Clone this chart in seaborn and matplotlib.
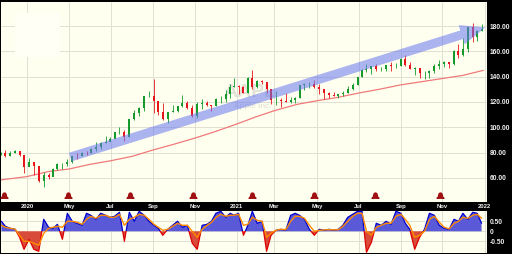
import numpy as np
import pandas as pd
import matplotlib
matplotlib.use("Agg")
import matplotlib.pyplot as plt
import matplotlib.transforms as mtransforms
from matplotlib.patches import Rectangle
from matplotlib.path import Path
import seaborn as sns

# ---------------- data ----------------
market_holidays = ["2020-02-17", "2020-04-10", "2020-05-25", "2020-07-03", "2020-09-07",
                   "2020-11-26", "2020-12-25", "2021-01-01", "2021-01-18", "2021-02-15",
                   "2021-04-02", "2021-05-31", "2021-07-05", "2021-09-06", "2021-11-25",
                   "2021-12-24"]
first_day = "2020-01-22"
last_data_day = "2021-12-31"
calendar_end = "2022-01-05"

first_open = 79.1
week_close = [79.58, 77.38, 80.01, 81.24, 78.26, 68.34, 72.26, 69.49, 57.31, 61.94,
              60.35, 67.00, 70.70, 70.74, 72.27, 77.53, 76.93, 79.72, 79.49, 82.88,
              84.70, 87.43, 88.41, 91.03, 95.92, 96.33, 92.62, 106.26, 111.11, 114.91,
              124.37, 124.81, 120.96, 112.00, 106.84, 112.28, 113.02, 116.97, 119.02, 115.04,
              108.86, 118.69, 119.26, 117.34, 116.59, 122.25, 122.41, 126.66, 131.97, 132.69,
              132.05, 127.14, 139.07, 131.96, 136.76, 135.37, 129.87, 121.26, 121.42, 121.03,
              119.99, 121.21, 123.00, 133.00, 134.16, 134.32, 131.46, 130.21, 127.45, 125.43,
              124.61, 125.89, 127.35, 130.46, 133.11, 139.96, 145.11, 146.39, 148.56, 145.86,
              146.14, 149.10, 148.19, 148.60, 154.30, 148.97, 146.06, 146.92, 142.65, 142.90,
              144.84, 148.69, 149.80, 151.28, 149.99, 160.55, 156.81, 161.84, 179.45, 171.14,
              176.28, 177.57]
week_high = [80.8, 81.96, 81.3, 81.8, 81.2, 75.4, 76.0, 70.3, 64.8, 64.6,
             64.0, 67.9, 71.6, 71.5, 74.7, 77.6, 79.9, 80.2, 81.1, 83.4,
             88.7, 88.3, 93.1, 92.6, 96.3, 99.96, 97.97, 106.4, 113.7, 116.0,
             124.9, 128.8, 137.98, 120.5, 118.8, 112.4, 117.7, 117.0, 125.4, 120.4,
             117.3, 119.6, 121.99, 120.7, 117.6, 123.4, 125.0, 129.6, 134.4, 138.8,
             133.6, 132.6, 139.7, 145.1, 137.4, 137.0, 136.0, 129.7, 128.7, 123.2,
             127.2, 124.2, 124.2, 133.0, 135.0, 135.5, 137.1, 134.1, 129.5, 127.9,
             127.6, 126.0, 128.5, 132.8, 134.6, 140.0, 145.65, 150.0, 148.7, 150.0,
             148.0, 149.4, 151.7, 150.9, 155.0, 157.3, 151.4, 147.4, 145.9, 144.2,
             144.9, 150.2, 153.2, 152.2, 151.6, 161.0, 165.7, 170.3, 179.6, 182.1,
             176.8, 181.3]
week_low = [78.2, 76.2, 76.9, 79.7, 77.6, 64.1, 69.4, 62.0, 57.0, 53.15,
            59.2, 62.3, 66.4, 67.0, 69.6, 71.6, 75.1, 77.6, 78.3, 79.3,
            81.6, 83.1, 87.3, 89.1, 91.8, 94.7, 89.1, 92.5, 106.0, 109.1,
            113.0, 123.9, 110.9, 110.0, 106.1, 103.1, 112.2, 112.3, 115.7, 114.6,
            107.7, 107.3, 114.1, 116.8, 112.6, 116.8, 119.1, 120.2, 123.4, 131.7,
            126.4, 126.9, 127.0, 130.2, 130.9, 134.4, 127.4, 118.4, 117.6, 116.2,
            119.7, 118.9, 119.1, 123.1, 129.5, 131.3, 131.1, 126.1, 122.3, 122.9,
            124.6, 123.1, 124.8, 127.1, 129.7, 133.3, 140.1, 143.6, 141.7, 144.1,
            144.5, 144.6, 144.5, 146.8, 148.6, 148.7, 145.8, 141.3, 139.1, 138.3,
            139.2, 143.2, 146.4, 147.8, 146.5, 149.3, 155.0, 156.4, 159.7, 167.5,
            167.9, 176.2]

ma_dates = ["2020-01-22", "2020-03-02", "2020-04-01", "2020-05-01", "2020-06-01",
            "2020-07-01", "2020-08-03", "2020-09-01", "2020-10-01", "2020-11-02",
            "2020-12-01", "2021-01-04", "2021-02-01", "2021-03-01", "2021-04-01",
            "2021-05-03", "2021-06-01", "2021-07-01", "2021-08-02", "2021-09-01",
            "2021-10-01", "2021-11-01", "2021-12-01", "2021-12-31"]
ma_values = [58.3, 61.0, 65.0, 67.0, 70.5, 73.5, 77.0, 82.0, 86.5, 91.5,
             96.5, 102.5, 108.0, 113.0, 118.0, 121.0, 123.5, 127.0, 130.0, 133.5,
             136.0, 138.5, 141.0, 145.0]

trend_dates = ["2020-05-04", "2022-01-04"]
trend_prices = [76.4, 179.0]

earnings_dates = ["2020-01-28", "2020-04-30", "2020-07-30", "2020-10-29",
                  "2021-01-27", "2021-04-28", "2021-07-27", "2021-10-28"]

ind_blue = [0.5, 0.25, 0.15, 0.1, -0.3, -0.9, -0.4, -0.9, -1.0, 0.6,
            0.2, 0.15, 0.35, -0.4, 0.9, 0.5, 0.4, 0.3, 0.9, 0.8,
            0.6, 0.9, 0.8, 0.7, 0.75, 0.95, -0.5, 0.95, 0.5, 1.0,
            0.8, 0.5, 0.3, 0.15, -0.2, 0.1, 0.3, 0.5, 0.2, 0.3,
            -0.6, -0.9, 0.3, 0.35, 0.5, 0.9, 1.0, 0.7, 0.9, 0.8,
            0.9, -0.2, 0.3, 1.0, 0.4, 0.5, -1.0, -0.2, 0.05, 0.1,
            0.05, 0.8, 0.9, 0.8, 0.6, 0.1, -0.2, 0.1, 0.05, 0.1,
            0.05, 0.1, 0.3, 0.7, 0.85, 1.0, 1.0, -1.05, -0.55, 0.4,
            0.3, 0.5, 0.35, 1.0, 0.9, 0.4, 0.1, -0.9, -0.3, 0.1,
            0.9, 0.8, 0.3, 0.15, 0.1, 0.6, 0.5, 0.9, 0.6, 0.95,
            0.9, 0.4]
ind_orange = [0.3, 0.2, 0.15, 0.1, -0.2, -0.5, -0.5, -0.6, -0.7, -0.1,
              0.15, 0.2, 0.25, 0.2, 0.5, 0.5, 0.45, 0.35, 0.6, 0.75,
              0.65, 0.8, 0.8, 0.7, 0.7, 0.85, 0.3, 0.6, 0.7, 0.85,
              0.8, 0.6, 0.35, 0.2, 0.05, 0.1, 0.25, 0.4, 0.3, 0.3,
              0.0, -0.3, 0.1, 0.3, 0.45, 0.7, 0.85, 0.75, 0.8, 0.8,
              0.85, 0.3, 0.35, 0.7, 0.55, 0.5, -0.3, -0.1, 0.05, 0.1,
              0.08, 0.5, 0.75, 0.75, 0.65, 0.3, 0.0, 0.05, 0.07, 0.08,
              0.07, 0.08, 0.25, 0.5, 0.75, 0.9, 0.9, 0.0, -0.2, 0.2,
              0.3, 0.4, 0.4, 0.75, 0.85, 0.6, 0.3, -0.3, -0.2, 0.0,
              0.6, 0.75, 0.45, 0.2, 0.12, 0.4, 0.5, 0.7, 0.65, 0.8,
              0.85, 0.65]

month_tick_dates = ["2020-03-02", "2020-05-01", "2020-07-01", "2020-09-01", "2020-11-02",
                    "2021-01-04", "2021-03-01", "2021-05-03", "2021-07-01", "2021-09-01",
                    "2021-11-01", "2022-01-03"]
month_labels = ["2020", "May", "Jul", "Sep", "Nov", "2021", "Mar", "May", "Jul", "Sep",
                "Nov", "2022"]
price_ticks = [60, 80, 100, 120, 140, 160, 180]
ind_ticks = [0.5, 0.0, -0.5]
ind_tick_labels = ["0.50", "0", "-0.50"]

# ---------------- style ----------------
sns.set_theme(style="white")
plt.rcParams["font.family"] = ["Liberation Sans", "DejaVu Sans"]

bg = "#fffff0"
grid_c = "#e0e0d4"
text_c = "#f2f2f2"
up_c, down_c = "#139a2a", "#e8141c"

# trading-day positions
cal = pd.bdate_range(first_day, calendar_end, freq="C", holidays=market_holidays)
pos = pd.Series(np.arange(len(cal), dtype=float), index=cal)
data_days = pos[pos.index <= pd.Timestamp(last_data_day)]
week_pos = data_days.groupby(data_days.index.to_period("W-FRI")).mean().to_numpy()


def to_pos(dates):
    return pos.reindex(pd.to_datetime(dates)).to_numpy()


close = np.array(week_close)
high = np.array(week_high)
low = np.array(week_low)
opens = np.r_[first_open, close[:-1]]
ind = np.array(ind_blue)

W, H = 512, 254
fig = plt.figure(figsize=(W / 100, H / 100), dpi=100, facecolor="black")
ax = fig.add_axes([1 / W, (H - 202) / H, 486 / W, 200 / H])
axi = fig.add_axes([1 / W, 1.5 / H, 486 / W, 42 / H])
for a in (ax, axi):
    a.set_facecolor(bg)
    for s in a.spines.values():
        s.set_visible(False)
    a.set_xlim(0.6, 494.5)

tick_pos = to_pos(month_tick_dates)

# ---------------- main price panel ----------------
ax.set_ylim(40.9, 199)
ax.set_yticks(price_ticks)
ax.set_yticklabels([f"{v:.2f}" for v in price_ticks])
ax.yaxis.tick_right()
ax.set_xticks(tick_pos)
ax.set_xticklabels(month_labels)
ax.tick_params(axis="y", length=0, pad=1.8, labelsize=4.8, labelcolor=text_c)
ax.tick_params(axis="x", length=0, pad=1.6, labelsize=4.2, labelcolor=text_c)
for lab in ax.get_xticklabels() + ax.get_yticklabels():
    lab.set_fontweight("bold")
ax.grid(True, color=grid_c, lw=0.7)
ax.set_axisbelow(True)

# blank legend box top-left (barely visible)
ax.add_patch(Rectangle((0.029, 0.725), 0.092, 0.22, transform=ax.transAxes,
                       facecolor="#fffff6", edgecolor="none", zorder=1))

# watermark
ax.text(254, 127.5, "AAPL", ha="center", va="center", fontsize=14, fontweight="bold",
        color="#e2e2d8", zorder=1)
ax.text(237, 116.5, "Apple Inc.", ha="left", va="center", fontsize=6,
        color="#dcdcd2", zorder=1)

# 200-day average
sns.lineplot(x=to_pos(ma_dates), y=ma_values, ax=ax, color="#f07a7a", lw=0.9,
             zorder=2, estimator=None)

# candles (weekly)
colors = np.where(close >= opens, up_c, down_c)
ax.vlines(week_pos, low, high, colors=colors, lw=0.6, zorder=3)
ax.bar(week_pos, np.abs(close - opens), bottom=np.minimum(close, opens), width=2.0,
       color=colors, linewidth=0, zorder=3)

# trend arrow
tp = to_pos(trend_dates)
ax.annotate("", xy=(tp[1], trend_prices[1]), xytext=(tp[0], trend_prices[0]),
            arrowprops=dict(arrowstyle="simple,head_length=1.8,head_width=1.45,tail_width=0.65",
                            mutation_scale=10, color="#6677ee", alpha=0.55, lw=0,
                            shrinkA=0, shrinkB=0),
            zorder=4, annotation_clip=False)

# earnings bells
theta = np.linspace(0, np.pi, 12)
bell_verts = [(0.45, 0.3)] + [(0.45 * np.cos(t), 0.3 + 0.6 * np.sin(t)) for t in theta] + \
             [(-0.45, 0.3), (-0.6, -0.2), (-0.9, -0.45), (0.9, -0.45), (0.6, -0.2),
              (0.45, 0.3)]
bell = Path(bell_verts)
trans = mtransforms.blended_transform_factory(ax.transData, ax.transAxes)
ax.plot(to_pos(earnings_dates), [0.028] * len(earnings_dates), transform=trans,
        marker=bell, ls="none", ms=5, color="#a01010", clip_on=False, zorder=5)

# ---------------- indicator panel ----------------
axi.set_ylim(-1.06, 1.04)
axi.set_xticks(tick_pos)
axi.set_xticklabels([])
axi.set_yticks(ind_ticks)
axi.set_yticklabels(ind_tick_labels)
axi.yaxis.tick_right()
axi.tick_params(axis="y", length=0, pad=1.8, labelsize=4.8, labelcolor=text_c)
axi.tick_params(axis="x", length=0)
for lab in axi.get_yticklabels():
    lab.set_fontweight("bold")
axi.grid(True, color=grid_c, lw=0.7)
axi.set_axisbelow(True)

axi.fill_between(week_pos, 0, ind, where=ind >= 0, interpolate=True,
                 color="#5a5ad8", lw=0, zorder=2)
axi.fill_between(week_pos, 0, ind, where=ind < 0, interpolate=True,
                 color="#d84a3a", lw=0, zorder=2)
sns.lineplot(x=week_pos, y=ind, ax=axi, color="#0000cc", lw=0.9, zorder=3, estimator=None)
axi.lines[-1].set_clip_path(Rectangle((-50, 0), 700, 5, transform=axi.transData))
sns.lineplot(x=week_pos, y=ind, ax=axi, color="#dd0000", lw=0.9, zorder=3, estimator=None)
axi.lines[-1].set_clip_path(Rectangle((-50, -5), 700, 5, transform=axi.transData))
sns.lineplot(x=week_pos, y=ind_orange, ax=axi, color="#ff8a00", lw=1.0, zorder=4,
             estimator=None)
for a in (ax, axi):
    a.set_xlabel("")
    a.set_ylabel("")

fig.savefig("out.png", dpi=100, facecolor="black")
